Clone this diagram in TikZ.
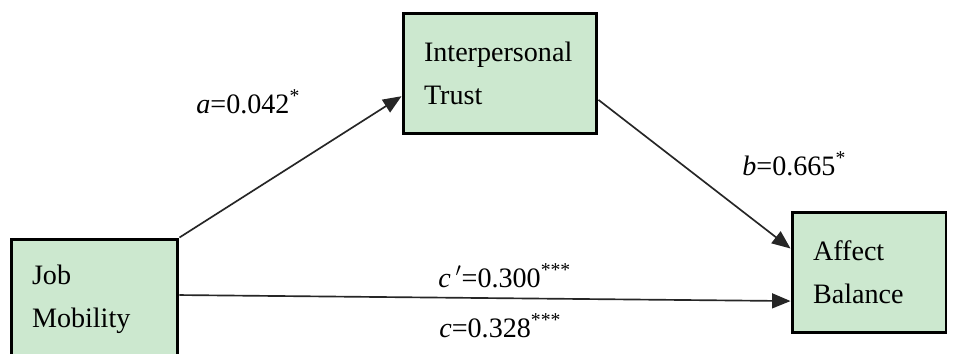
\documentclass[tikz,border=0pt]{standalone}
\usepackage{fontspec}
\setmainfont{Liberation Serif}
\usetikzlibrary{arrows.meta}

\definecolor{boxgreen}{HTML}{CCE8CF}

\begin{document}
\begin{tikzpicture}[
    x=0.02cm, y=-0.02cm,
    every node/.style={font=\fontsize{16}{24.5}\selectfont},
    varbox/.style={draw, line width=1.7pt, fill=boxgreen, align=left,
        inner xsep=0.42cm, inner ysep=0pt, minimum height=2.42cm},
    path/.style={line width=0.95pt, black!85, -{Triangle[length=10.5pt, width=8.5pt]}},
    coef/.style={anchor=base west, inner sep=0pt}
]

% --- Frame ---
\clip (0,0) rectangle (960,354);
\fill[white] (0,0) rectangle (960,354);

% --- Variables ---
\node[varbox, text width=2.5cm] (jobmob) at (94.5,299.5) {Job\\Mobility};
\node[varbox, text width=3.04cm] (trust) at (500,73.5) {Interpersonal\\Trust};
\node[varbox, text width=2.24cm] (affect) at (869,272.5) {Affect\\Balance};

% --- Paths ---
\draw[path] (jobmob.north east) -- (trust.193);
\draw[path] (trust.-15) -- (affect.163);
\draw[path] (jobmob.3) -- (affect.200);

% --- Coefficients ---
\node[coef] (alab) at (196,114) {\textit{a}=0.042\textsuperscript{*}};
\node[coef] (blab) at (742,176) {\textit{b}=0.665\textsuperscript{*}};
\node[coef] (cplab) at (438,288) {\textit{c\,$'$}=0.300\textsuperscript{***}};
\node[coef] (clab) at (439,338) {\textit{c}=0.328\textsuperscript{***}};

\end{tikzpicture}
\end{document}
